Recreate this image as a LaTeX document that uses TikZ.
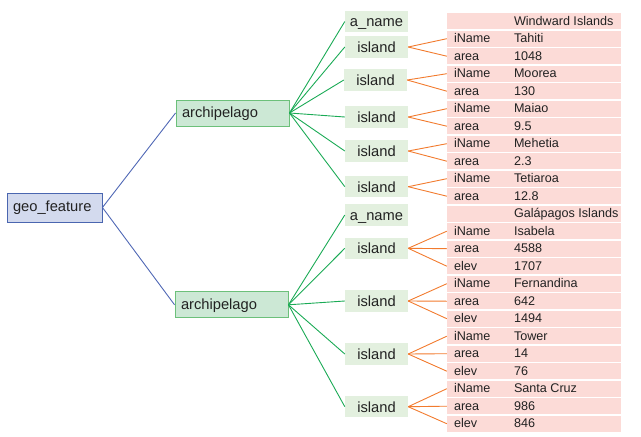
\documentclass[tikz,border=0pt]{standalone}
\usepackage{fontspec}
\setmainfont{Liberation Sans}
\definecolor{geofill}{HTML}{D3DAEE}
\definecolor{geoborder}{HTML}{4A66B0}
\definecolor{archfill}{HTML}{CCE8D5}
\definecolor{archborder}{HTML}{6CC07A}
\definecolor{islfill}{HTML}{E3F0DF}
\definecolor{rowfill}{HTML}{FCDBD7}
\definecolor{blueline}{HTML}{5068B5}
\definecolor{greenline}{HTML}{1AAA55}
\definecolor{orangeline}{HTML}{F27B2E}
\definecolor{txt}{HTML}{222222}
\tikzset{
  nodefont/.style={font=\fontsize{14.7}{17}\selectfont, text=txt, text height=10.6pt},
  geobox/.style={nodefont, text depth=2pt, draw=geoborder, fill=geofill, line width=0.9pt,
    minimum height=29pt, text width=83pt, align=left, inner xsep=6pt, inner ysep=0pt},
  archbox/.style={nodefont, text depth=1.5pt, draw=archborder, fill=archfill, line width=0.9pt,
    minimum height=26pt, text width=101pt, align=left, inner xsep=6pt, inner ysep=0pt},
  islbox/.style={nodefont, text depth=0pt, fill=islfill, minimum width=63pt, minimum height=21.5pt, inner sep=0pt},
  rowbox/.style={fill=rowfill, minimum width=174pt, minimum height=15.8pt, inner sep=0pt},
  tabtxt/.style={font=\fontsize{12.6}{15}\selectfont, text=txt, anchor=base west, inner sep=0pt},
  blueedge/.style={draw=blueline, line width=0.9pt},
  greenedge/.style={draw=greenline, line width=0.9pt},
  orangeedge/.style={draw=orangeline, line width=0.9pt},
}
\begin{document}
\begin{tikzpicture}[x=1pt,y=-1pt]
\useasboundingbox (0,0) rectangle (641,437);
% table rows
\foreach \i/\k/\v in {0//Windward Islands,1/iName/Tahiti,2/area/1048,3/iName/Moorea,4/area/130,
  5/iName/Maiao,6/area/9.5,7/iName/Mehetia,8/area/2.3,9/iName/Tetiaroa,10/area/12.8,
  11//Galápagos Islands,12/iName/Isabela,13/area/4588,14/elev/1707,15/iName/Fernandina,
  16/area/642,17/elev/1494,18/iName/Tower,19/area/14,20/elev/76,21/iName/Santa Cruz,
  22/area/986,23/elev/846}{
  \node[rowbox] (r\i) at ({534},{21.2+17.5*\i}) {};
  \node[tabtxt] (k\i) at ([xshift=7pt,yshift=-4.1pt]r\i.west) {\k};
  \node[tabtxt] (v\i) at ([xshift=67pt,yshift=-4.1pt]r\i.west) {\v};
}
% main nodes
\node[geobox] (geo) at (54.5,207.5) {geo\_feature};
\node[archbox] (ar1) at (232.5,113) {archipelago};
\node[archbox] (ar2) at (231.5,304.8) {archipelago};
\node[islbox] (a1) at (376.5,21.5) {a\_name};
\node[islbox] (i1) at (376.5,47) {island};
\node[islbox] (i2) at (375.5,80) {island};
\node[islbox] (i3) at (376.5,117) {island};
\node[islbox] (i4) at (376.5,151) {island};
\node[islbox] (i5) at (376.5,186.7) {island};
\node[islbox] (a2) at (376.5,215) {a\_name};
\node[islbox] (i6) at (376.5,248.3) {island};
\node[islbox] (i7) at (376.5,301) {island};
\node[islbox] (i8) at (376.5,354) {island};
\node[islbox] (i9) at (376.5,406.7) {island};
% edges
\draw[blueedge] (geo.east) -- (ar1.west);
\draw[blueedge] (geo.east) -- (ar2.west);
\foreach \n in {a1,i1,i2,i3,i4,i5}{\draw[greenedge] (ar1.east) -- (\n.west);}
\foreach \n in {a2,i6,i7,i8,i9}{\draw[greenedge] (ar2.east) -- (\n.west);}
\foreach \n/\a/\b in {i1/1/2,i2/3/4,i3/5/6,i4/7/8,i5/9/10}{
  \draw[orangeedge] (\n.east) -- (r\a.west);
  \draw[orangeedge] (\n.east) -- (r\b.west);
}
\foreach \n/\a/\b/\c in {i6/12/13/14,i7/15/16/17,i8/18/19/20,i9/21/22/23}{
  \draw[orangeedge] (\n.east) -- (r\a.west);
  \draw[orangeedge] (\n.east) -- (r\b.west);
  \draw[orangeedge] (\n.east) -- (r\c.west);
}
\end{tikzpicture}
\end{document}
